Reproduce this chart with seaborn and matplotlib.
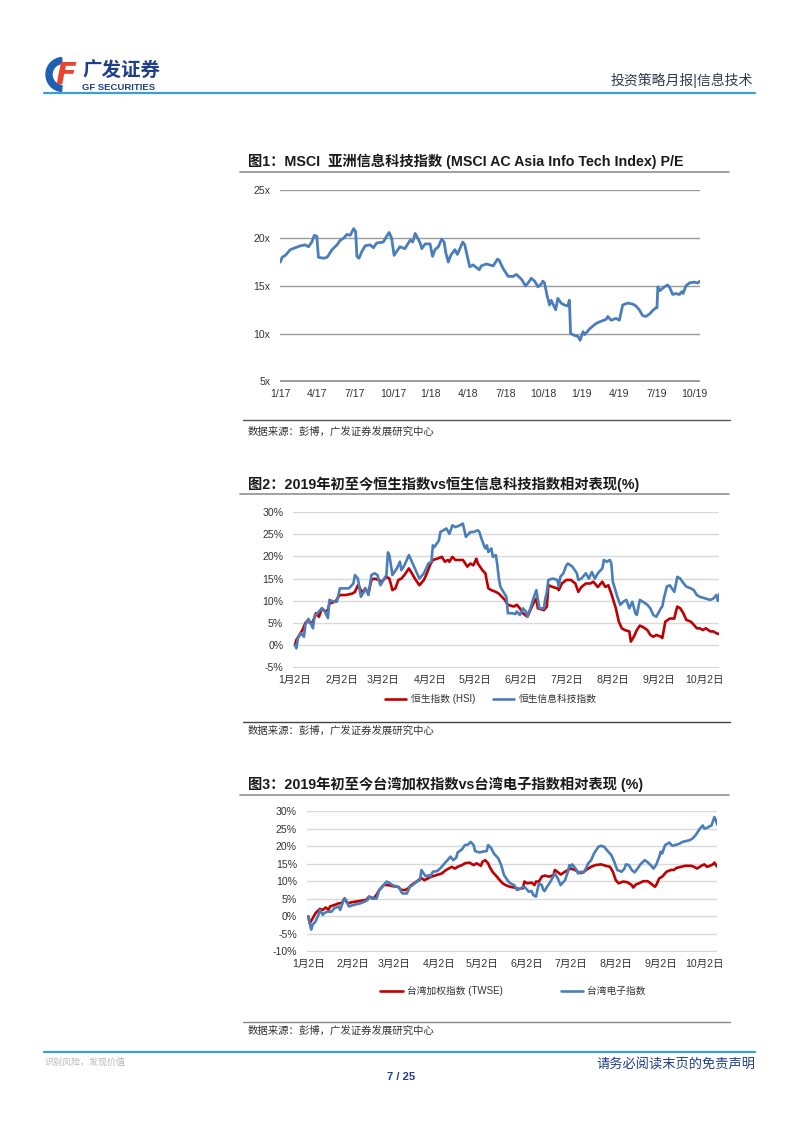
import pandas as pd
import seaborn as sns
import matplotlib
matplotlib.use("Agg")
import matplotlib.pyplot as plt
import matplotlib.dates as mdates
from matplotlib.ticker import FuncFormatter
from matplotlib.patches import Wedge
from matplotlib.lines import Line2D

# ---- Fig 1: MSCI AC Asia Info Tech P/E (days since 2017-01-02) ----
pe_days = [0, 4, 12, 24, 36, 48, 60, 68, 76, 82,
           88, 92, 105, 113, 125, 137, 145, 153, 161, 169,
           177, 182, 185, 190, 197, 205, 217, 225, 233, 249,
           257, 263, 269, 275, 281, 289, 301, 314, 320, 326,
           331, 338, 342, 350, 362, 368, 374, 382, 390, 396,
           400, 406, 412, 422, 428, 441, 446, 450, 458, 466,
           481, 486, 498, 515, 525, 529, 539, 551, 563, 571,
           583, 593, 599, 607, 615, 623, 631, 635, 639, 645,
           651, 655, 666, 671, 679, 687, 695, 699, 702, 712,
           720, 725, 732, 736, 748, 756, 765, 776, 788, 792,
           800, 812, 820, 828, 840, 852, 860, 868, 876, 884,
           894, 900, 908, 911, 913, 918, 929, 937, 942, 949,
           957, 965, 971, 974, 981, 989, 1001, 1009, 1015]
pe_vals = [17.5, 18.0, 18.2, 18.8, 19.0, 19.2, 19.3, 19.1, 19.6, 20.3,
           20.2, 18.0, 17.9, 18.0, 18.8, 19.3, 19.8, 20.0, 20.4, 20.3,
           21.0, 20.7, 18.1, 17.9, 18.6, 19.2, 19.3, 19.0, 19.5, 19.6,
           20.2, 20.6, 20.0, 18.2, 18.6, 19.1, 18.9, 19.8, 19.6, 20.5,
           20.1, 19.5, 18.9, 19.4, 19.4, 18.1, 18.8, 19.1, 19.9, 19.6,
           18.5, 17.5, 18.2, 18.8, 18.3, 19.6, 19.3, 18.5, 17.0, 17.2,
           16.7, 17.1, 17.3, 17.1, 17.8, 17.7, 16.8, 16.0, 16.0, 16.2,
           15.7, 15.0, 15.3, 15.8, 15.5, 14.9, 15.2, 15.5, 15.3, 14.0,
           13.0, 13.5, 12.5, 13.7, 13.2, 13.0, 12.9, 13.5, 10.0, 9.8,
           9.7, 9.3, 10.2, 9.9, 10.5, 10.8, 11.1, 11.3, 11.5, 11.8,
           11.4, 11.6, 11.4, 13.0, 13.2, 13.1, 12.9, 12.5, 11.9, 11.8,
           12.1, 12.4, 12.7, 12.7, 14.9, 14.5, 14.9, 15.1, 14.8, 14.1,
           14.2, 14.1, 14.4, 14.2, 15.0, 15.3, 15.4, 15.3, 15.5]
pe_ticks = [5, 10, 15, 20, 25]

# ---- Fig 2: HSI vs HS IT, YTD 2019 (days since 2019-01-02) ----
hsi_days = [0, 1, 3, 5, 7, 9, 10, 12, 14, 16,
            18, 20, 22, 23, 27, 29, 30, 34, 38, 40,
            42, 43, 45, 46, 47, 49, 51, 53, 56, 58,
            61, 63, 65, 67, 69, 71, 73, 76, 78, 80,
            83, 86, 88, 90, 92, 95, 98, 100, 102, 103,
            105, 107, 110, 112, 115, 117, 119, 121, 122, 125,
            127, 128, 129, 131, 134, 136, 138, 140, 142, 146,
            148, 150, 152, 155, 157, 159, 161, 162, 166, 168,
            169, 172, 175, 176, 178, 181, 184, 187, 189, 191,
            194, 197, 199, 202, 205, 207, 209, 211, 214, 216,
            218, 220, 223, 224, 226, 228, 230, 232, 235, 237,
            239, 241, 244, 245, 247, 250, 253, 254, 255, 257,
            259, 261, 264, 266, 268, 270, 272, 274, 277, 279,
            281, 283]
hsi_vals = [0.0, 1.2, 2.3, 3.4, 5.0, 5.7, 5.0, 5.3, 7.2, 6.4,
            8.3, 7.6, 7.9, 9.4, 9.8, 10.9, 11.3, 11.3, 11.6, 12.0,
            13.5, 13.1, 11.6, 12.4, 12.8, 11.6, 14.7, 15.0, 14.7, 14.3,
            15.4, 15.0, 12.4, 12.8, 14.7, 15.0, 15.8, 17.3, 16.2, 15.0,
            13.5, 14.7, 16.2, 18.0, 19.2, 19.5, 19.9, 18.8, 19.2, 18.8,
            19.9, 19.2, 19.2, 19.2, 17.7, 18.4, 18.0, 19.5, 18.4, 16.9,
            16.2, 14.4, 12.8, 12.4, 12.0, 11.6, 10.9, 10.2, 9.1, 8.7,
            9.1, 8.3, 7.2, 6.4, 7.9, 9.4, 10.5, 8.3, 7.9, 8.7,
            13.5, 13.1, 12.8, 12.4, 13.9, 14.7, 14.7, 13.9, 12.0, 13.1,
            13.9, 13.9, 14.3, 13.1, 14.3, 13.1, 13.5, 11.6, 8.3, 5.3,
            3.8, 3.4, 3.1, 0.8, 1.9, 3.4, 4.4, 4.1, 3.4, 2.3,
            1.9, 2.3, 1.9, 1.6, 5.3, 6.0, 6.0, 7.5, 8.7, 8.3,
            7.2, 5.7, 5.3, 4.6, 3.8, 3.8, 3.4, 3.8, 3.1, 3.1,
            2.7, 2.5]
hsit_days = [0, 1, 2, 4, 6, 7, 9, 10, 12, 13,
             16, 18, 20, 22, 23, 26, 28, 30, 36, 39,
             40, 42, 44, 46, 47, 49, 51, 53, 55, 57,
             59, 61, 62, 63, 65, 68, 70, 71, 73, 76,
             78, 80, 83, 86, 89, 91, 92, 93, 96, 97,
             99, 101, 103, 105, 107, 110, 112, 114, 117, 119,
             122, 123, 124, 126, 127, 128, 129, 131, 132, 134,
             135, 136, 137, 139, 141, 142, 145, 147, 148, 150,
             152, 154, 155, 157, 159, 161, 163, 166, 167, 168,
             169, 172, 175, 176, 177, 179, 181, 182, 185, 188,
             189, 191, 194, 196, 198, 200, 202, 205, 206, 208,
             210, 211, 212, 215, 217, 219, 221, 223, 225, 227,
             228, 230, 232, 235, 237, 239, 241, 244, 245, 246,
             248, 250, 253, 255, 257, 259, 261, 264, 266, 268,
             270, 274, 277, 279, 281, 282, 283]
hsit_vals = [0.0, -0.7, 1.6, 2.7, 1.9, 4.6, 5.9, 5.3, 3.8, 6.4,
             7.6, 8.3, 7.6, 6.1, 10.2, 9.8, 9.8, 12.8, 12.8, 13.9,
             15.8, 15.0, 10.9, 12.0, 12.8, 11.3, 15.8, 16.2, 15.8, 13.5,
             14.7, 15.8, 20.9, 20.3, 15.8, 17.3, 18.8, 16.9, 18.0, 20.3,
             18.8, 17.3, 15.0, 16.2, 18.4, 18.8, 22.5, 22.1, 23.6, 25.5,
             25.9, 26.3, 25.1, 27.0, 26.6, 27.0, 27.4, 24.4, 25.5, 25.5,
             25.9, 25.5, 24.4, 22.5, 21.8, 22.5, 21.0, 21.8, 19.9, 20.3,
             18.0, 15.0, 13.2, 12.0, 10.9, 7.2, 7.2, 7.0, 7.6, 6.8,
             8.3, 7.6, 6.4, 8.3, 10.5, 12.4, 8.3, 8.3, 10.5, 12.0,
             14.7, 15.0, 14.7, 13.2, 15.4, 16.2, 18.0, 18.4, 17.7, 16.2,
             14.7, 15.0, 16.2, 15.0, 16.5, 15.0, 16.2, 17.3, 19.2, 18.8,
             19.2, 18.4, 14.3, 10.9, 9.1, 9.8, 10.2, 8.3, 9.8, 7.2,
             6.8, 10.2, 9.8, 9.1, 8.3, 6.8, 6.4, 8.3, 8.7, 10.5,
             13.2, 13.5, 12.0, 15.4, 15.0, 14.0, 13.2, 12.8, 12.4, 11.3,
             10.9, 10.5, 10.2, 10.5, 11.3, 10.0, 11.5]
fig2_ticks = [-5, 0, 5, 10, 15, 20, 25, 30]

# ---- Fig 3: TWSE vs Taiwan electronics, YTD 2019 ----
twse_days = [0, 1, 3, 5, 8, 10, 12, 14, 15, 18,
             21, 23, 25, 27, 30, 36, 40, 42, 45, 47,
             49, 52, 55, 58, 62, 64, 67, 69, 71, 75,
             78, 80, 83, 85, 88, 92, 95, 99, 101, 103,
             106, 108, 111, 114, 116, 119, 120, 122, 124, 125,
             127, 130, 132, 134, 136, 139, 142, 145, 148, 149,
             151, 154, 156, 157, 159, 161, 163, 166, 169, 170,
             172, 174, 177, 179, 181, 184, 186, 188, 190, 193,
             195, 198, 202, 205, 208, 210, 212, 214, 217, 220,
             223, 224, 226, 228, 231, 234, 236, 239, 240, 242,
             244, 247, 250, 252, 254, 257, 260, 264, 266, 268,
             271, 273, 275, 277, 279, 280, 282]
twse_vals = [0.0, -2.0, -0.6, 0.9, 2.1, 1.8, 2.5, 1.8, 2.8, 3.2,
             3.7, 3.7, 5.1, 3.7, 4.0, 4.4, 4.7, 5.6, 5.1, 6.1,
             7.5, 8.9, 8.9, 8.6, 8.4, 7.5, 7.5, 8.0, 8.9, 10.0,
             10.9, 10.3, 10.9, 11.3, 11.7, 12.2, 13.2, 14.1, 13.6, 14.1,
             14.6, 15.1, 15.3, 14.6, 15.1, 14.4, 15.5, 16.0, 15.1, 14.1,
             12.7, 11.3, 10.3, 9.4, 8.9, 8.4, 8.2, 7.8, 8.0, 9.9,
             9.4, 9.6, 8.9, 9.9, 9.9, 11.3, 11.6, 11.3, 11.7, 13.2,
             12.6, 11.9, 12.7, 13.2, 13.6, 13.2, 12.6, 12.3, 12.7, 13.6,
             14.1, 14.6, 14.8, 14.4, 14.1, 12.7, 10.3, 9.4, 9.9, 9.7,
             8.9, 8.2, 9.1, 9.4, 10.0, 10.0, 9.4, 8.4, 9.0, 10.8,
             11.3, 12.7, 13.2, 13.2, 13.8, 14.1, 14.4, 14.4, 14.1, 13.6,
             14.4, 14.8, 14.1, 14.4, 14.8, 15.3, 14.1]
twel_days = [0, 2, 3, 5, 7, 8, 10, 11, 13, 16,
             18, 21, 22, 24, 25, 26, 28, 31, 36, 39,
             41, 42, 44, 46, 47, 49, 52, 54, 56, 58,
             61, 63, 64, 65, 68, 70, 72, 75, 77, 78,
             80, 81, 83, 84, 86, 89, 92, 94, 96, 98,
             100, 102, 103, 106, 108, 110, 112, 114, 115, 118,
             120, 123, 124, 126, 128, 131, 133, 135, 138, 140,
             142, 144, 146, 148, 149, 151, 152, 154, 155, 157,
             158, 159, 161, 162, 163, 164, 167, 170, 172, 174,
             177, 179, 180, 181, 182, 185, 186, 188, 190, 192,
             193, 195, 197, 200, 202, 204, 206, 209, 211, 213,
             216, 218, 219, 221, 223, 225, 227, 229, 232, 234,
             236, 238, 240, 242, 243, 244, 246, 249, 251, 253,
             256, 258, 260, 263, 265, 267, 270, 272, 273, 275,
             276, 278, 280, 281, 282]
twel_vals = [0.0, -3.8, -2.4, -1.5, 0.4, 1.8, 0.4, 0.9, 1.3, 1.3,
             2.3, 2.8, 1.8, 4.2, 4.9, 4.7, 2.8, 3.2, 3.7, 4.2,
             4.7, 5.6, 5.0, 5.1, 5.0, 7.5, 8.9, 9.9, 9.5, 8.9,
             8.5, 8.0, 7.0, 6.5, 6.5, 8.4, 8.9, 9.9, 10.3, 13.2,
             11.9, 11.4, 11.7, 11.3, 12.7, 12.9, 14.1, 15.1, 16.0, 17.0,
             16.0, 16.7, 18.2, 19.1, 20.3, 20.4, 21.2, 20.3, 18.6, 18.2,
             18.4, 18.6, 20.3, 19.5, 17.9, 16.5, 14.6, 11.7, 9.9, 9.2,
             8.9, 7.5, 7.8, 8.4, 8.4, 7.5, 7.0, 7.2, 6.1, 5.6,
             7.5, 9.4, 8.9, 7.5, 7.2, 8.0, 9.9, 12.2, 10.8, 8.9,
             10.3, 12.7, 14.6, 14.1, 14.8, 13.2, 12.2, 12.7, 12.5, 14.1,
             15.1, 16.0, 17.9, 19.8, 20.1, 19.8, 18.8, 17.4, 15.5, 13.2,
             12.7, 13.6, 14.8, 14.6, 13.2, 12.5, 13.6, 14.8, 16.0, 15.4,
             14.6, 13.6, 14.8, 17.0, 18.4, 17.9, 20.3, 21.0, 20.1, 20.3,
             20.7, 21.2, 21.4, 21.7, 22.2, 23.1, 25.0, 25.9, 25.0, 25.2,
             25.5, 25.9, 28.3, 27.4, 26.1]
fig3_ticks = [-10, -5, 0, 5, 10, 15, 20, 25, 30]

BLUE = "#4a7ebb"
RED = "#c00000"
HEAD_BLUE = "#3a9fd5"
NAVY = "#1f3f8a"
SOURCE = "数据来源：彭博，广发证券发展研究中心"

sns.set_theme(style="white")
plt.rcParams["font.family"] = ["Liberation Sans", "Noto Sans CJK SC", "DejaVu Sans"]
plt.rcParams["axes.unicode_minus"] = False

W, H = 802, 1133
fig = plt.figure(figsize=(W / 100, H / 100), dpi=100)


def box(x0, y0, x1, y1):
    return [x0 / W, 1 - y1 / H, (x1 - x0) / W, (y1 - y0) / H]


def hline(y, x0, x1, color, lw):
    fig.add_artist(Line2D([x0 / W, x1 / W], [1 - y / H, 1 - y / H], color=color, lw=lw))


def ftext(x, y, s, **kw):
    kw.setdefault("va", "center")
    fig.text(x / W, 1 - y / H, s, **kw)


def style_axes(ax, grid_color, ypad, xpad):
    for s in ax.spines.values():
        s.set_visible(False)
    ax.grid(False)
    ax.yaxis.grid(True, color=grid_color, lw=1.0)
    ax.set_axisbelow(True)
    ax.tick_params(axis="both", length=0, labelsize=7.6, colors="#333333")
    ax.tick_params(axis="y", pad=ypad)
    ax.tick_params(axis="x", pad=xpad)
    ax.set_xlabel("")
    ax.set_ylabel("")
    ax.set_facecolor("none")


def md_fmt(v, pos):
    d = mdates.num2date(v)
    return f"{d.month}月{d.day}日"


# ---- header ----
logo = fig.add_axes(box(44, 56, 80, 93))
logo.set_xlim(0, 36)
logo.set_ylim(0, 37)
logo.axis("off")
logo.add_patch(Wedge((19, 18.5), 17, 95, 265, width=6, color="#1e5fb4"))
logo.text(22, 18, "F", fontsize=22, fontweight="bold", style="italic",
          color="#e8452c", ha="center", va="center", family="DejaVu Sans")
ftext(82, 71, "广发证券", fontsize=14, fontweight="bold", color=NAVY)
ftext(82, 87.5, "GF SECURITIES", fontsize=6.8, fontweight="bold", color=NAVY)
ftext(753, 80, "投资策略月报|信息技术", ha="right", fontsize=10, color="#33384a")
hline(93, 44, 755, HEAD_BLUE, 1.6)

# ---- figure 1 ----
ftext(248, 161, "图1：MSCI  亚洲信息科技指数 (MSCI AC Asia Info Tech Index) P/E",
      fontsize=10.3, fontweight="bold", color="#1a1a1a")
hline(172, 240, 729, "#9a9a9a", 1.3)

pe = pd.DataFrame({"date": pd.Timestamp("2017-01-02") + pd.to_timedelta(pe_days, unit="D"),
                   "pe": pe_vals})
ax1 = fig.add_axes(box(280, 190, 700, 382.3))
sns.lineplot(data=pe, x="date", y="pe", ax=ax1, color=BLUE, lw=2.0)
style_axes(ax1, "#9a9a9a", 7, 5)
ax1.axhline(pe_ticks[0], color="#9a9a9a", lw=1.3, zorder=0)
ax1.set_ylim(4.9, 25.05)
ax1.set_yticks(pe_ticks)
ax1.set_yticklabels([f"{t}x" for t in pe_ticks])
ax1.set_xlim(pd.Timestamp("2017-01-01"), pe["date"].iloc[-1])
ax1.xaxis.set_major_locator(mdates.MonthLocator(bymonth=[1, 4, 7, 10]))
ax1.xaxis.set_major_formatter(FuncFormatter(
    lambda v, p: f"{mdates.num2date(v).month}/{mdates.num2date(v):%y}"))

hline(420, 243, 730, "#555555", 1.0)
ftext(248, 432, SOURCE, fontsize=7.5, color="#333333")

# ---- figure 2 ----
ftext(248, 484, "图2：2019年初至今恒生指数vs恒生信息科技指数相对表现(%)",
      fontsize=10.3, fontweight="bold", color="#1a1a1a")
hline(494, 240, 729, "#9a9a9a", 1.3)

start19 = pd.Timestamp("2019-01-02")
hsi = pd.DataFrame({"date": start19 + pd.to_timedelta(hsi_days, unit="D"), "v": hsi_vals})
hsit = pd.DataFrame({"date": start19 + pd.to_timedelta(hsit_days, unit="D"), "v": hsit_vals})
ax2 = fig.add_axes(box(293, 511.7, 719.3, 667.7))
sns.lineplot(data=hsi, x="date", y="v", ax=ax2, color=RED, lw=1.9, label="恒生指数 (HSI)")
sns.lineplot(data=hsit, x="date", y="v", ax=ax2, color=BLUE, lw=1.9, label="恒生信息科技指数")
style_axes(ax2, "#d9d9d9", 7, 5)
ax2.set_ylim(-5.08, 30.08)
ax2.set_yticks(fig2_ticks)
ax2.set_yticklabels([f"{t}%" for t in fig2_ticks])
ax2.set_xlim(start19 - pd.Timedelta(hours=31), hsi["date"].iloc[-1])
ax2.xaxis.set_major_locator(mdates.MonthLocator(bymonthday=2))
ax2.xaxis.set_major_formatter(FuncFormatter(md_fmt))
ax2.legend(loc="center", bbox_to_anchor=(491 / W, 1 - 699 / H), bbox_transform=fig.transFigure,
           ncol=2, frameon=False, fontsize=7, handlelength=2.2, handletextpad=0.5,
           columnspacing=1.8, labelcolor="#333333")

hline(721.5, 243, 730, "#444444", 1.0)
ftext(248, 731, SOURCE, fontsize=7.5, color="#333333")

# ---- figure 3 ----
ftext(248, 784, "图3：2019年初至今台湾加权指数vs台湾电子指数相对表现 (%)",
      fontsize=10.3, fontweight="bold", color="#1a1a1a")
hline(795, 240, 729, "#9a9a9a", 1.3)

twse = pd.DataFrame({"date": start19 + pd.to_timedelta(twse_days, unit="D"), "v": twse_vals})
twel = pd.DataFrame({"date": start19 + pd.to_timedelta(twel_days, unit="D"), "v": twel_vals})
ax3 = fig.add_axes(box(306.7, 810.7, 717.3, 951.7))
sns.lineplot(data=twse, x="date", y="v", ax=ax3, color=RED, lw=1.9, label="台湾加权指数 (TWSE)")
sns.lineplot(data=twel, x="date", y="v", ax=ax3, color=BLUE, lw=1.9, label="台湾电子指数")
style_axes(ax3, "#d9d9d9", 7, 5)
ax3.set_ylim(-10.1, 30.1)
ax3.set_yticks(fig3_ticks)
ax3.set_yticklabels([f"{t}%" for t in fig3_ticks])
ax3.set_xlim(start19 - pd.Timedelta(hours=26), twel["date"].iloc[-1])
ax3.xaxis.set_major_locator(mdates.MonthLocator(bymonthday=2))
ax3.xaxis.set_major_formatter(FuncFormatter(md_fmt))
ax3.legend(loc="center", bbox_to_anchor=(513 / W, 1 - 991 / H), bbox_transform=fig.transFigure,
           ncol=2, frameon=False, fontsize=7, handlelength=2.3, handletextpad=0.4,
           columnspacing=6.0, labelcolor="#333333")

hline(1021.5, 243, 730, "#888888", 1.0)
ftext(248, 1031, SOURCE, fontsize=7.5, color="#333333")

# ---- footer ----
hline(1052, 44, 755, HEAD_BLUE, 1.6)
ftext(45, 1062, "识别风险，发现价值", fontsize=6.5, color="#b8b8b8")
ftext(755, 1065, "请务必阅读末页的免责声明", ha="right", fontsize=9.5, color=NAVY)
ftext(401, 1077, "7 / 25", ha="center", fontsize=8, fontweight="bold", color=NAVY)

fig.savefig("out.png", dpi=100)
